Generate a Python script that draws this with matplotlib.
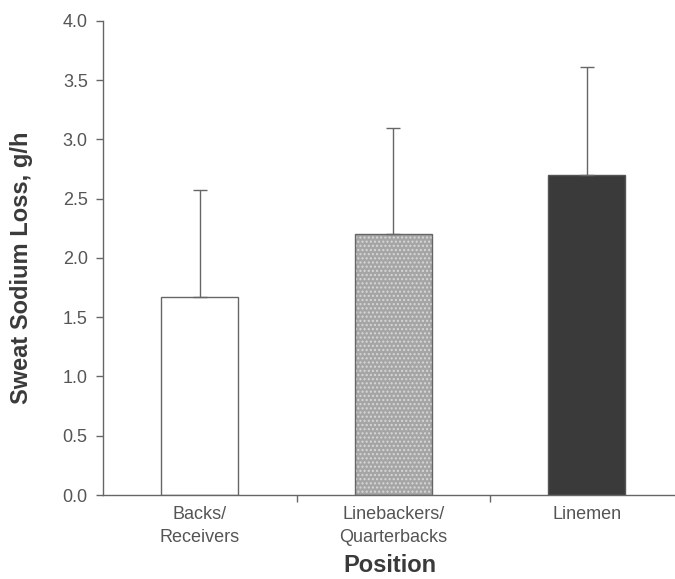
import numpy as np
import matplotlib.pyplot as plt

plt.rcParams['font.family'] = ['Liberation Sans', 'DejaVu Sans']

posiciones = ["Backs/\nReceivers", "Linebackers/\nQuarterbacks", "Linemen"]
sodio = [1.67, 2.20, 2.70]
desv = [0.90, 0.90, 0.91]
ticks_y = [0.0, 0.5, 1.0, 1.5, 2.0, 2.5, 3.0, 3.5, 4.0]

gris_txt = "#555555"
x = np.arange(len(posiciones))

fig = plt.figure(figsize=(6.75, 5.79), dpi=100)
ax = fig.add_axes([0.1526, 0.145, 0.86, 0.819])

# barras: blanca, punteada gris, oscura
ax.bar(x[0], sodio[0], width=0.4, color="white", edgecolor="#666666", linewidth=1)
ax.bar(x[1], sodio[1], width=0.4, color="#a5a5a5", edgecolor="#d8d8d8", hatch="....", linewidth=0)
ax.bar(x[1], sodio[1], width=0.4, fill=False, edgecolor="#666666", linewidth=1)
ax.bar(x[2], sodio[2], width=0.4, color="#3a3a3a", edgecolor="#555555", linewidth=1)

# solo la mitad superior del error
ax.errorbar(x, sodio, yerr=[np.zeros(3), desv], fmt="none", ecolor="#666666",
            elinewidth=1, capsize=5, capthick=1)

ax.set_xlim(-0.5, 2.5)
ax.set_ylim(0, 4.0)
ax.set_yticks(ticks_y)
ax.set_yticklabels([f"{v:.1f}" for v in ticks_y])
ax.set_xticks(x)
ax.set_xticklabels(posiciones, linespacing=1.45)
ax.set_xticks([0.5, 1.5], minor=True)

ax.tick_params(axis="y", direction="out", length=5, width=1, colors="#666666",
               labelcolor=gris_txt, labelsize=13, pad=6)
ax.tick_params(axis="x", which="major", length=0, labelcolor=gris_txt, labelsize=13, pad=8)
ax.tick_params(axis="x", which="minor", direction="out", length=5, width=1, colors="#666666")

for s in ["top", "right"]:
    ax.spines[s].set_visible(False)
for s in ["left", "bottom"]:
    ax.spines[s].set_color("#666666")
    ax.spines[s].set_linewidth(1)

ax.set_ylabel("Sweat Sodium Loss, g/h", fontsize=17, fontweight="bold", color="#3a3a3a")
ax.set_xlabel("Position", fontsize=17, fontweight="bold", color="#3a3a3a")
ax.yaxis.set_label_coords(-0.12, 0.48)
ax.xaxis.set_label_coords(0.494, -0.124)

plt.savefig("out.png", dpi=100)
